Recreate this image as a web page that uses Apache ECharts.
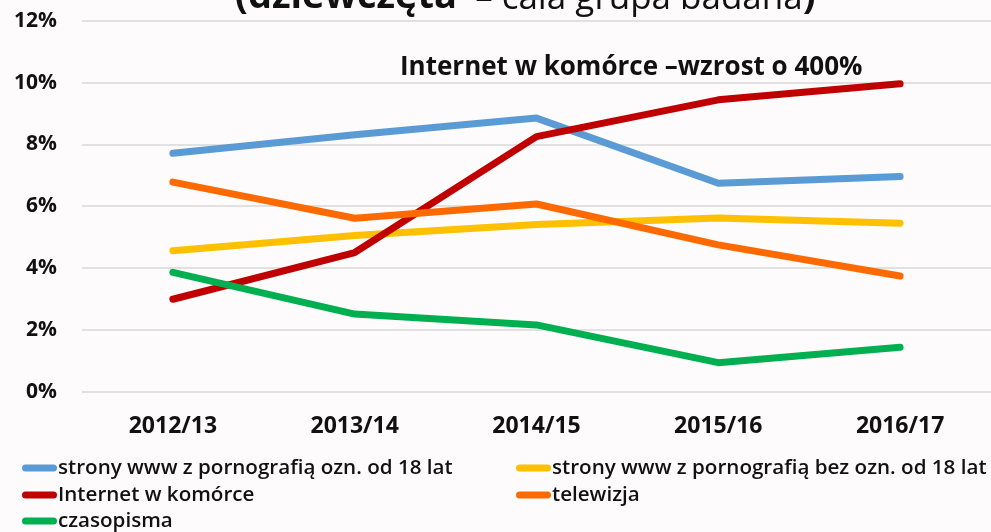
<!DOCTYPE html>
<html>
<head>
<meta charset="utf-8">
<script src="https://cdn.jsdelivr.net/npm/echarts@6/dist/echarts.min.js"></script>
<style>
html,body{margin:0;padding:0;background:#fdfbfb;}
#chart{width:991px;height:532px;}
</style>
</head>
<body>
<div id="chart"></div>
<script>
const categories = ['2012/13', '2013/14', '2014/15', '2015/16', '2016/17'];
const seriesNames = [
  'strony www z pornografią ozn. od 18 lat',
  'strony www z pornografią bez ozn. od 18 lat',
  'Internet w komórce',
  'telewizja',
  'czasopisma'
];
const pornoOzn = [7.71, 8.31, 8.85, 6.74, 6.96];
const pornoBezOzn = [4.56, 5.05, 5.41, 5.62, 5.45];
const internetKomorka = [2.99, 4.50, 8.25, 9.44, 9.96];
const telewizja = [6.78, 5.61, 6.07, 4.75, 3.74];
const czasopisma = [3.86, 2.51, 2.16, 0.94, 1.44];
const yTicks = [0, 2, 4, 6, 8, 10, 12];
const annotation = 'Internet w komórce –wzrost o 400%';

const colors = ['#5b9bd5', '#ffc000', '#c00000', '#ff6a00', '#00b050'];
const values = [pornoOzn, pornoBezOzn, internetKomorka, telewizja, czasopisma];
const FONT = 'Open Sans';
const pill = 'path://M3.5,0 H31.5 A3.5,3.5 0 0 1 31.5,7 H3.5 A3.5,3.5 0 0 1 3.5,0 Z';

// legend layout: [series index, left, top]
const legendSlots = [[0, 22, 457], [1, 516, 457], [2, 22, 484], [3, 516, 484], [4, 22, 510]];

const chart = echarts.init(document.getElementById('chart'), null, {renderer: 'canvas'});
chart.setOption({
  backgroundColor: '#fdfbfb',
  animation: false,
  grid: {left: 82, right: -14, top: 20.7, bottom: 140.3, containLabel: false},
  xAxis: {
    type: 'category',
    data: categories,
    boundaryGap: true,
    axisLine: {show: false},
    axisTick: {show: false},
    axisLabel: {margin: 23, fontFamily: FONT, fontWeight: 'bold', fontSize: 23, color: '#111'}
  },
  yAxis: {
    type: 'value',
    min: yTicks[0],
    max: yTicks[yTicks.length - 1],
    interval: 2,
    axisLine: {show: false},
    axisTick: {show: false},
    splitLine: {lineStyle: {color: '#d9d9d9', width: 1.5}},
    axisLabel: {margin: 25, fontFamily: FONT, fontWeight: 'bold', fontSize: 21, color: '#111',
      formatter: v => v + '%'}
  },
  legend: legendSlots.map(([si, l, t]) => ({
    left: l, top: t, orient: 'horizontal', padding: 0,
    itemWidth: 35, itemHeight: 7, icon: pill,
    data: [seriesNames[si]],
    textStyle: {fontFamily: FONT, fontWeight: 600, fontSize: 20.6, lineHeight: 22, color: '#111', padding: [0, 0, 0, -4]}
  })),
  graphic: [
    {
      type: 'text', left: 400, top: 55,
      style: {text: annotation, fontFamily: FONT, fontWeight: 'bold', fontSize: 26, fill: '#111'}
    },
    {
      type: 'text', left: 235, top: -22,
      style: {
        text: '{b|(dziewczęta}{n|  – cała grupa badana}{b|)}',
        rich: {
          b: {fontFamily: FONT, fontWeight: 'bold', fontSize: 38, lineHeight: 46, fill: '#111'},
          n: {fontFamily: FONT, fontWeight: 'normal', fontSize: 35, lineHeight: 46, padding: [4, 0, 0, 0], fill: '#111'}
        }
      }
    }
  ],
  series: seriesNames.map((name, i) => ({
    name: name,
    type: 'line',
    data: values[i],
    symbol: 'none',
    smooth: false,
    color: colors[i],
    lineStyle: {width: 7, color: colors[i], cap: 'round', join: 'round'}
  }))
});
</script>
</body>
</html>
